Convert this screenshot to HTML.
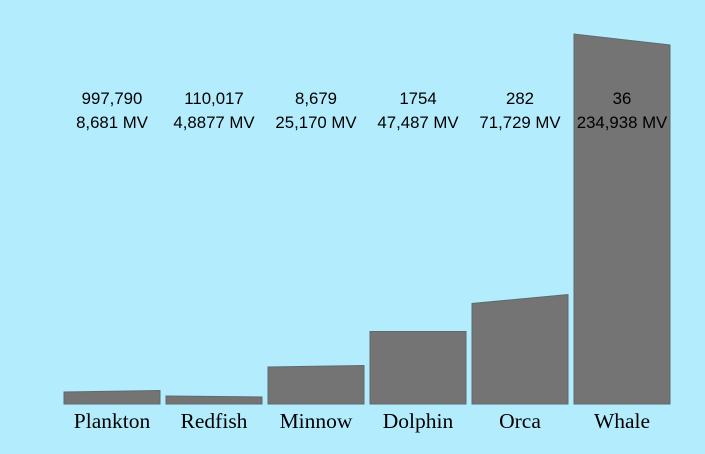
<!DOCTYPE html>
<html><head><meta charset="utf-8"><style>
html,body{margin:0;padding:0;background:#b3ecfd;}
svg{display:block;}
</style></head><body>
<svg id="chart" width="705" height="454" viewBox="0 0 705 454">
<rect x="0" y="0" width="705" height="454" fill="#b3ecfd"/>
<g id="bars"></g>
<g id="labels"></g>
</svg>
<script>
const categories = ["Plankton","Redfish","Minnow","Dolphin","Orca","Whale"];
const countLabels = ["997,790","110,017","8,679","1754","282","36"];
const mvLabels = ["8,681 MV","4,8877 MV","25,170 MV","47,487 MV","71,729 MV","234,938 MV"];
const leftValues = [12, 8, 37, 72.5, 100.5, 370];
const rightValues = [13.5, 7, 38.5, 72.5, 109.5, 359];

const NS = "http://www.w3.org/2000/svg";
const baseY = 404, plotH = 370, yMax = 370;
const x0 = 64, step = 102, barW = 96;
function yScale(v){ return baseY - v / yMax * plotH; }
function xScale(i){ return x0 + i * step; }

const gb = document.getElementById('bars');
const gl = document.getElementById('labels');
categories.forEach((c, i) => {
  const xl = xScale(i), xr = xl + barW;
  const p = document.createElementNS(NS, 'polygon');
  p.setAttribute('points', `${xl},${baseY} ${xl},${yScale(leftValues[i])} ${xr},${yScale(rightValues[i])} ${xr},${baseY}`);
  p.setAttribute('fill', '#747474');
  p.setAttribute('stroke', '#5e6a6e');
  p.setAttribute('stroke-width', '1');
  
  
  gb.appendChild(p);

  const cx = xl + barW / 2;
  const t1 = document.createElementNS(NS, 'text');
  t1.setAttribute('x', cx); t1.setAttribute('y', 104);
  t1.setAttribute('text-anchor', 'middle');
  t1.setAttribute('font-family', 'Liberation Sans, sans-serif');
  t1.setAttribute('font-size', '16.8');
  t1.textContent = countLabels[i];
  
  
  gl.appendChild(t1);

  const t2 = document.createElementNS(NS, 'text');
  t2.setAttribute('x', cx); t2.setAttribute('y', 128);
  t2.setAttribute('text-anchor', 'middle');
  t2.setAttribute('font-family', 'Liberation Sans, sans-serif');
  t2.setAttribute('font-size', '16.8');
  t2.textContent = mvLabels[i];
  
  
  gl.appendChild(t2);

  const t3 = document.createElementNS(NS, 'text');
  t3.setAttribute('x', cx); t3.setAttribute('y', 428);
  t3.setAttribute('text-anchor', 'middle');
  t3.setAttribute('font-family', 'Liberation Serif, serif');
  t3.setAttribute('font-size', '21.5');
  t3.textContent = c;
  
  
  gl.appendChild(t3);
});
</script>
</body></html>
